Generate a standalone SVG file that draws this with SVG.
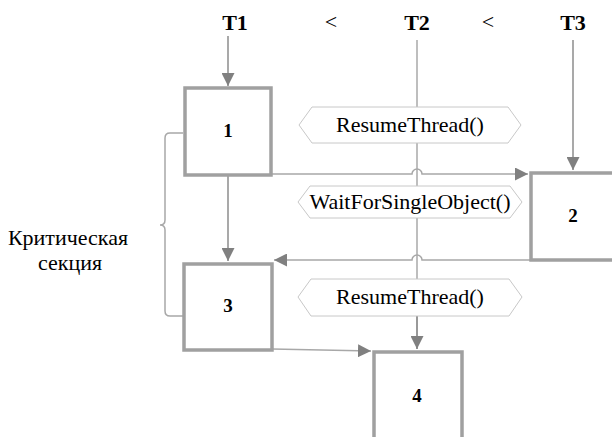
<svg xmlns="http://www.w3.org/2000/svg" width="612" height="437" viewBox="0 0 612 437">
<style>
.box{fill:#fff;stroke:#a0a0a0;stroke-width:3.5}
.hex{fill:#fff;stroke:#c8c8c8;stroke-width:1}
.ln{fill:none;stroke:#8c8c8c;stroke-width:1.5}
.th{fill:none;stroke:#a8a8a8;stroke-width:1.5}
</style>
<defs>
<marker id="ar2" viewBox="0 0 10 10" refX="10" refY="5" markerWidth="13" markerHeight="13" orient="auto" markerUnits="userSpaceOnUse">
<path d="M0,0L10,5L0,10z" fill="#808080"/>
</marker>
</defs>
<g id="labels" font-family="Liberation Serif, Times New Roman, serif" font-size="22" text-anchor="middle" fill="#000">
<text x="235" y="30" font-weight="bold">T1</text>
<text x="331" y="29">&lt;</text>
<text x="417" y="30" font-weight="bold">T2</text>
<text x="488" y="29">&lt;</text>
<text x="573" y="30" font-weight="bold">T3</text>
</g>
<g id="connectors">
<path class="ln" d="M228,36V86" marker-end="url(#ar2)"/>
<path class="th" d="M417,40V349"/>
<path class="ln" d="M573,40V170" marker-end="url(#ar2)"/>
<path class="ln" d="M228,176V261" marker-end="url(#ar2)"/>
<path class="th" d="M272,174H412a5,5 0 0 1 10,0H528" marker-end="url(#ar2)"/>
<path class="th" d="M530,260H422a5,5 0 0 0 -10,0H274" marker-end="url(#ar2)"/>
<path class="th" d="M272,349L371,351" marker-end="url(#ar2)"/>
<path class="ln" d="M417,316V349" marker-end="url(#ar2)"/>
<path class="th" d="M183,133H170Q165,133 165,138V220Q165,225 160,225Q165,225 165,230V311Q165,316 170,316H183" stroke-width="1"/>
</g>
<g font-family="Liberation Serif, Times New Roman, serif" font-size="22" text-anchor="middle" fill="#000">
<g id="hex1"><polygon class="hex" points="299,125 312,107 508,107 521,125 508,143 312,143"/><text x="410" y="132">ResumeThread()</text></g>
<g id="hex2"><polygon class="hex" points="298,202 310,186 510,186 522,202 510,218 310,218"/><text x="410" y="209">WaitForSingleObject()</text></g>
<g id="hex3"><polygon class="hex" points="298,297 311,279 509,279 522,297 509,316 311,316"/><text x="410" y="304">ResumeThread()</text></g>
<g id="n1"><rect class="box" x="185" y="88" width="86" height="87"/><text x="228" y="137" font-weight="bold" font-size="19">1</text></g>
<g id="n2"><rect class="box" x="531" y="173" width="90" height="87"/><text x="573" y="222" font-weight="bold" font-size="19">2</text></g>
<g id="n3"><rect class="box" x="184" y="264" width="88" height="86"/><text x="228" y="312" font-weight="bold" font-size="19">3</text></g>
<g id="n4"><rect class="box" x="374" y="352" width="88" height="100"/><text x="417" y="402" font-weight="bold" font-size="19">4</text></g>
<g id="crit"><text x="68" y="245">Критическая</text><text x="70" y="270">секция</text></g>
</g>
</svg>
